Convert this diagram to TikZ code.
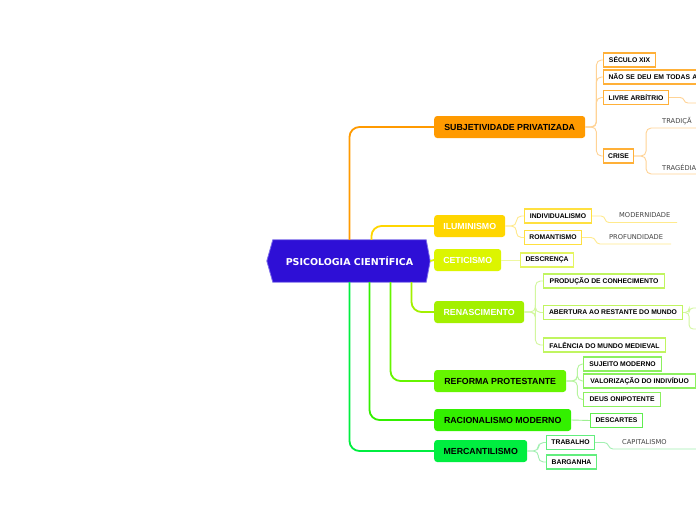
\documentclass[tikz,border=0pt]{standalone}
\usepackage{fontspec}
\setmainfont{Liberation Sans}
\newfontfamily\dejavu{DejaVu Sans}
\definecolor{cRoot}{HTML}{2E0FD6}
\definecolor{cRootB}{HTML}{7C6CEB}
\definecolor{cOr}{HTML}{FF9A00}
\definecolor{cOrB}{HTML}{FFB038}
\definecolor{cOrL}{HTML}{FFD395}
\definecolor{cYe}{HTML}{FFD600}
\definecolor{cYeB}{HTML}{FFE040}
\definecolor{cYeL}{HTML}{FFEA8C}
\definecolor{cCe}{HTML}{DCF500}
\definecolor{cCeB}{HTML}{E4F560}
\definecolor{cCeL}{HTML}{EEF8A0}
\definecolor{cRe}{HTML}{A3F000}
\definecolor{cReB}{HTML}{C0F560}
\definecolor{cReL}{HTML}{D2F79E}
\definecolor{cRf}{HTML}{66F500}
\definecolor{cRfB}{HTML}{8CF060}
\definecolor{cRfL}{HTML}{B6F59E}
\definecolor{cRa}{HTML}{33F000}
\definecolor{cRaB}{HTML}{60EE50}
\definecolor{cRaL}{HTML}{9CF090}
\definecolor{cMe}{HTML}{00EE40}
\definecolor{cMeB}{HTML}{62EE7E}
\definecolor{cMeL}{HTML}{A2F0B2}
\definecolor{cLeaf}{HTML}{444444}
\tikzset{
  mainbox/.style={anchor=west, rounded corners=3pt, minimum height=22pt, inner sep=0pt,
    font=\fontsize{8.8}{10}\selectfont\bfseries},
  subbox/.style={anchor=west, draw, line width=1.1pt, fill=white, minimum height=14pt, inner sep=0pt,
    font=\fontsize{6.8}{8}\selectfont\bfseries, text=black},
  leaf/.style={anchor=west, inner sep=0pt, text=cLeaf, font=\dejavu\fontsize{6.7}{8}\selectfont},
  mainline/.style={line width=1.8pt, rounded corners=10pt},
  subline/.style={line width=0.9pt, rounded corners=5pt},
  leafline/.style={line width=0.9pt, sharp corners},
}
\begin{document}
\begin{tikzpicture}[x=1pt,y=-1pt]
\path[use as bounding box, fill=white] (0,0) rectangle (696,520);
\clip (0,0) rectangle (696,520);

% root
\node[minimum width=153pt, minimum height=42pt, inner sep=0pt] (root) at (349.5,261) {};
\filldraw[fill=cRoot, draw=cRootB, line width=0.8pt]
  (root.north west) -- (root.north east) -- ([xshift=4pt]root.east) -- (root.south east)
  -- (root.south west) -- ([xshift=-6pt]root.west) -- cycle;
\node[text=white, inner sep=0pt, font=\dejavu\fontsize{9.5}{11}\selectfont\bfseries] (roottxt) at (root.center) {PSICOLOGIA CIENTÍFICA};

% main nodes
\node[mainbox, fill=cOr, text=black, minimum width=151pt] (sub) at (434,127) {SUBJETIVIDADE PRIVATIZADA};
\node[mainbox, fill=cYe, text=white, minimum width=71pt] (ilu) at (434,226) {ILUMINISMO};
\node[mainbox, fill=cCe, text=white, minimum width=67pt] (cet) at (434,260) {CETICISMO};
\node[mainbox, fill=cRe, text=white, minimum width=90pt] (ren) at (434,312) {RENASCIMENTO};
\node[mainbox, fill=cRf, text=black, minimum width=132pt] (ref) at (434,381) {REFORMA PROTESTANTE};
\node[mainbox, fill=cRa, text=black, minimum width=137pt] (rac) at (434,420) {RACIONALISMO MODERNO};
\node[mainbox, fill=cMe, text=black, minimum width=93pt] (mer) at (434,451) {MERCANTILISMO};

% main connectors
\draw[mainline, cOr] (root.north) |- (sub.west);
\draw[mainline, cYe] ([xshift=22pt]root.north) |- (ilu.west);
\draw[mainline, cCe] ([xshift=4pt]root.east) -- (cet.west);
\draw[mainline, cRe] ([xshift=62pt]root.south) |- (ren.west);
\draw[mainline, cRf] ([xshift=41pt]root.south) |- (ref.west);
\draw[mainline, cRa] ([xshift=20pt]root.south) |- (rac.west);
\draw[mainline, cMe] (root.south) |- (mer.west);

% subjetividade children
\node[subbox, draw=cOrB, minimum width=52pt] (sec) at (603,60) {SÉCULO XIX};
\node[subbox, draw=cOrB, text width=100pt, align=left, inner xsep=5pt] (nao) at (603,77) {NÃO SE DEU EM TODAS A};
\node[subbox, draw=cOrB, minimum width=65pt] (liv) at (603,97.5) {LIVRE ARBÍTRIO};
\node[subbox, draw=cOrB, minimum width=30pt] (cri) at (603,156) {CRISE};
\foreach \c in {sec,nao,liv,cri}
  \draw[subline, cOrL] (sub.east) -- ++(11,0) |- (\c.west);
\coordinate (livA) at (688,103);
\coordinate (livB) at (700,103);
\draw[leafline, cOrL] (liv.east) -- ++(11,0) .. controls +(5,0) and +(-5,0) .. (livA) -- (livB);
\node[leaf] (trad) at (662,121) {TRADIÇÃ};
\node[leaf] (trag) at (662,167.5) {TRAGÉDIA};
\coordinate (tradE) at (700,128);
\coordinate (tragE) at (700,174);
\draw[subline, cOrL] (cri.east) -- ++(12,0) |- (tradE);
\draw[subline, cOrL] (cri.east) -- ++(12,0) |- (tragE);

% iluminismo children
\node[subbox, draw=cYeB, minimum width=67pt] (ind) at (524,216) {INDIVIDUALISMO};
\node[subbox, draw=cYeB, minimum width=57pt] (rom) at (524,237.5) {ROMANTISMO};
\foreach \c in {ind,rom}
  \draw[subline, cYeL] (ilu.east) -- ++(11,0) |- (\c.west);
\node[leaf] (mod) at (619,215.5) {MODERNIDADE};
\node[leaf] (prf) at (609,237.5) {PROFUNDIDADE};
\coordinate (modA) at (609,222.5);
\coordinate (modB) at (677,222.5);
\coordinate (prfA) at (600,244);
\coordinate (prfB) at (671,244);
\draw[leafline, cYeL] (ind.east) -- ++(9,0) .. controls +(5,0) and +(-5,0) .. (modA) -- (modB);
\draw[leafline, cYeL] (rom.east) -- ++(9,0) .. controls +(5,0) and +(-5,0) .. (prfA) -- (prfB);

% ceticismo child
\node[subbox, draw=cCeB, minimum width=53pt] (dsc) at (520,260) {DESCRENÇA};
\draw[subline, cCeL] (cet.east) -- (dsc.west);

% renascimento children
\node[subbox, draw=cReB, minimum width=121pt] (pro) at (543,281) {PRODUÇÃO DE CONHECIMENTO};
\node[subbox, draw=cReB, minimum width=139pt] (abe) at (543,312.5) {ABERTURA AO RESTANTE DO MUNDO};
\node[subbox, draw=cReB, minimum width=122pt] (fal) at (543,345) {FALÊNCIA DO MUNDO MEDIEVAL};
\foreach \c in {pro,abe,fal}
  \draw[subline, cReL] (ren.east) -- ++(11,0) |- (\c.west);
\coordinate (abeU) at (700,308);
\coordinate (abeD) at (700,329);
\draw[subline, rounded corners=4pt, cReL] (abe.east) -- ++(6,0) |- (abeU);
\draw[subline, rounded corners=4pt, cReL] (abe.east) -- ++(6,0) |- (abeD);

% reforma children
\node[subbox, draw=cRfB, minimum width=78pt] (suj) at (583,364) {SUJEITO MODERNO};
\node[subbox, draw=cRfB, minimum width=112pt] (val) at (583,381) {VALORIZAÇÃO DO INDIVÍDUO};
\node[subbox, draw=cRfB, minimum width=77pt] (deu) at (583,399.5) {DEUS ONIPOTENTE};
\foreach \c in {suj,val,deu}
  \draw[subline, cRfL] (ref.east) -- ++(11,0) |- (\c.west);

% racionalismo child
\node[subbox, draw=cRaB, minimum width=52pt] (dca) at (590,420.5) {DESCARTES};
\draw[subline, cRaL] (rac.east) -- (dca.west);

% mercantilismo children
\node[subbox, draw=cMeB, minimum width=48pt] (tra) at (546,442.5) {TRABALHO};
\node[subbox, draw=cMeB, minimum width=50pt] (bar) at (546,462) {BARGANHA};
\foreach \c in {tra,bar}
  \draw[subline, cMeL] (mer.east) -- ++(11,0) |- (\c.west);
\node[leaf] (cap) at (622,442) {CAPITALISMO};
\coordinate (capA) at (613,449);
\coordinate (capB) at (700,449);
\draw[leafline, cMeL] (tra.east) -- ++(9,0) .. controls +(5,0) and +(-5,0) .. (capA) -- (capB);
\end{tikzpicture}
\end{document}
